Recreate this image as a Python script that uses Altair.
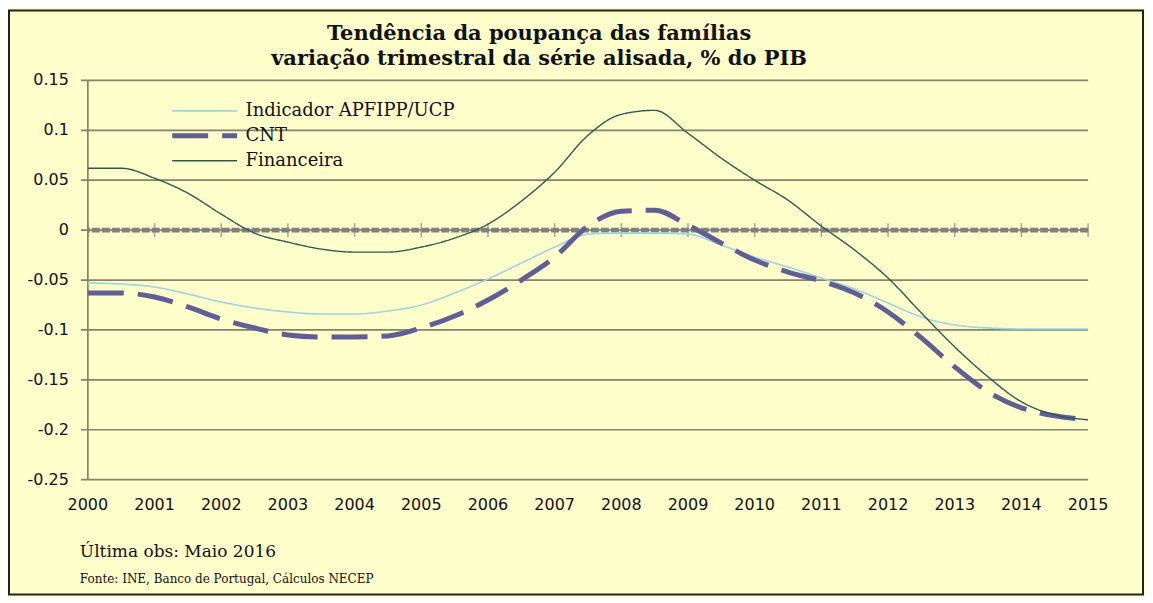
import altair as alt
import pandas as pd

# ---- data ----
anos = [2000.0, 2000.5, 2001.0, 2001.5, 2002.0, 2002.5, 2003.0, 2003.5,
        2004.0, 2004.5, 2005.0, 2005.5, 2006.0, 2006.5, 2007.0, 2007.5,
        2008.0, 2008.5, 2009.0, 2009.5, 2010.0, 2010.5, 2011.0, 2011.5,
        2012.0, 2012.5, 2013.0, 2013.5, 2014.0, 2014.5, 2015.0]

indicador = [-0.053, -0.054, -0.057, -0.064, -0.072, -0.078, -0.082, -0.084,
             -0.084, -0.081, -0.075, -0.063, -0.049, -0.033, -0.017, -0.004,
             -0.003, -0.003, -0.004, -0.015, -0.027, -0.037, -0.048, -0.059,
             -0.073, -0.087, -0.095, -0.098, -0.099, -0.099, -0.099]

cnt = [-0.063, -0.063, -0.067, -0.077, -0.089, -0.098, -0.105, -0.107,
       -0.107, -0.106, -0.098, -0.086, -0.070, -0.050, -0.027, 0.004,
       0.019, 0.020, 0.005, -0.013, -0.030, -0.042, -0.051, -0.063,
       -0.082, -0.108, -0.137, -0.162, -0.178, -0.186, -0.190]

financeira = [0.062, 0.062, 0.052, 0.037, 0.016, -0.003, -0.012, -0.019,
              -0.022, -0.022, -0.017, -0.008, 0.006, 0.029, 0.058, 0.095,
              0.116, 0.120, 0.097, 0.072, 0.050, 0.030, 0.004, -0.020,
              -0.048, -0.083, -0.117, -0.147, -0.172, -0.185, -0.190]

series = ["Indicador APFIPP/UCP", "CNT", "Financeira"]
cores = ["#9FD3E2", "#5F5F96", "#2C5A50"]
tracos = [[1, 0], [36, 14], [1, 0]]
larguras = [1.6, 5, 1.4]

anos_eixo = [2000, 2001, 2002, 2003, 2004, 2005, 2006, 2007,
             2008, 2009, 2010, 2011, 2012, 2013, 2014, 2015]
valores_y = [-0.25, -0.2, -0.15, -0.1, -0.05, 0, 0.05, 0.1, 0.15]
rotulos_y = ["-0.25", "-0.2", "-0.15", "-0.1", "-0.05", "0", "0.05", "0.1", "0.15"]

titulo = ["Tendência da poupança das famílias",
          "variação trimestral da série alisada, % do PIB"]
rodape = ["Última obs: Maio 2016",
          "Fonte: INE, Banco de Portugal, Cálculos NECEP"]

rows = []
for nome, vals in zip(series, [indicador, cnt, financeira]):
    for a, v in zip(anos, vals):
        rows.append({"ano": a, "valor": v, "serie": nome})
df = pd.DataFrame(rows)

W, H = 1002, 400
GRID = "#84846A"
ZERO = "#808080"
TXT = "#111111"

xs = alt.Scale(domain=[2000, 2015], nice=False, zero=False)
ys = alt.Scale(domain=[-0.25, 0.15], nice=False, zero=False)

# frame around the whole chart
frame = alt.Chart(pd.DataFrame({"k": [0]})).mark_rect(
    fillOpacity=0, stroke="#222222", strokeWidth=2
).encode(
    x=alt.value(-79), x2=alt.value(1057), y=alt.value(-70), y2=alt.value(515)
)

df_y = pd.DataFrame({"v": valores_y, "rot": rotulos_y})
df_x = pd.DataFrame({"ano": anos_eixo, "v": [0] * len(anos_eixo)})

# horizontal gridlines (extend a little left of the axis, like ticks)
grid = alt.Chart(df_y).mark_rule(color=GRID, strokeWidth=1.7).encode(
    y=alt.Y("v:Q", scale=ys, axis=None),
    x=alt.value(-7), x2=alt.value(W),
)

# vertical axis line
yaxis_line = alt.Chart(pd.DataFrame({"ano": [2000], "a": [-0.25], "b": [0.15]})).mark_rule(
    color=GRID, strokeWidth=1.7
).encode(
    x=alt.X("ano:Q", scale=xs, axis=None),
    y=alt.Y("a:Q", scale=ys, axis=None), y2="b:Q",
)

ylabels = alt.Chart(df_y).mark_text(
    align="right", baseline="middle", font="DejaVu Sans", fontSize=16, color=TXT
).encode(
    y=alt.Y("v:Q", scale=ys, axis=None), x=alt.value(-19), text="rot:N"
)

xlabels = alt.Chart(df_x).mark_text(
    align="center", baseline="middle", font="DejaVu Sans", fontSize=16, color=TXT
).encode(
    x=alt.X("ano:Q", scale=xs, axis=None), y=alt.value(425), text=alt.Text("ano:Q", format="d")
)

zero_line = alt.Chart(pd.DataFrame({"v": [0]})).mark_rule(
    color=ZERO, strokeWidth=5, strokeDash=[8, 2]
).encode(y=alt.Y("v:Q", scale=ys, axis=None))

zero_ticks = alt.Chart(df_x).mark_tick(
    orient="vertical", size=14, thickness=1.5, color=ZERO
).encode(
    x=alt.X("ano:Q", scale=xs, axis=None),
    y=alt.Y("v:Q", scale=ys, axis=None),
)

leg = alt.Legend(title=None, orient="none", legendX=82, legendY=18,
                 symbolType="stroke", symbolSize=4225,
                 clipHeight=25, rowPadding=0, padding=0,
                 labelOffset=6, labelFont="DejaVu Serif",
                 labelFontSize=18, labelColor=TXT, labelLimit=400)

lines = alt.Chart(df).mark_line(interpolate="monotone", strokeCap="butt").encode(
    x=alt.X("ano:Q", scale=xs, axis=None),
    y=alt.Y("valor:Q", scale=ys, axis=None),
    color=alt.Color("serie:N", scale=alt.Scale(domain=series, range=cores), legend=leg),
    strokeDash=alt.StrokeDash("serie:N", scale=alt.Scale(domain=series, range=tracos), legend=leg),
    strokeWidth=alt.StrokeWidth("serie:N",
                                scale=alt.Scale(type="ordinal", domain=series, range=larguras),
                                legend=leg),
)


def texto(t, x, y, size, weight="normal", align="left"):
    return alt.Chart(pd.DataFrame({"t": [t]})).mark_text(
        font="DejaVu Serif", fontSize=size, fontWeight=weight, align=align,
        baseline="alphabetic", color=TXT
    ).encode(text="t:N", x=alt.value(x), y=alt.value(y))


t1 = texto(titulo[0], 452, -40, 21, "bold", "center")
t2 = texto(titulo[1], 452, -15, 21, "bold", "center")
f1 = texto(rodape[0], -8, 477, 17)
f2 = texto(rodape[1], -8, 503, 12)

chart = alt.layer(
    frame, grid, yaxis_line, zero_line, zero_ticks, lines,
    ylabels, xlabels, t1, t2, f1, f2
).properties(
    width=W, height=H,
    autosize=alt.AutoSizeParams(type="none"),
    padding={"left": 80, "top": 72, "right": 57, "bottom": 117},
).configure(
    background="#FFFFCC"
).configure_view(stroke=None)

chart.save("out.html", embed_options={"renderer": "svg", "actions": False})
